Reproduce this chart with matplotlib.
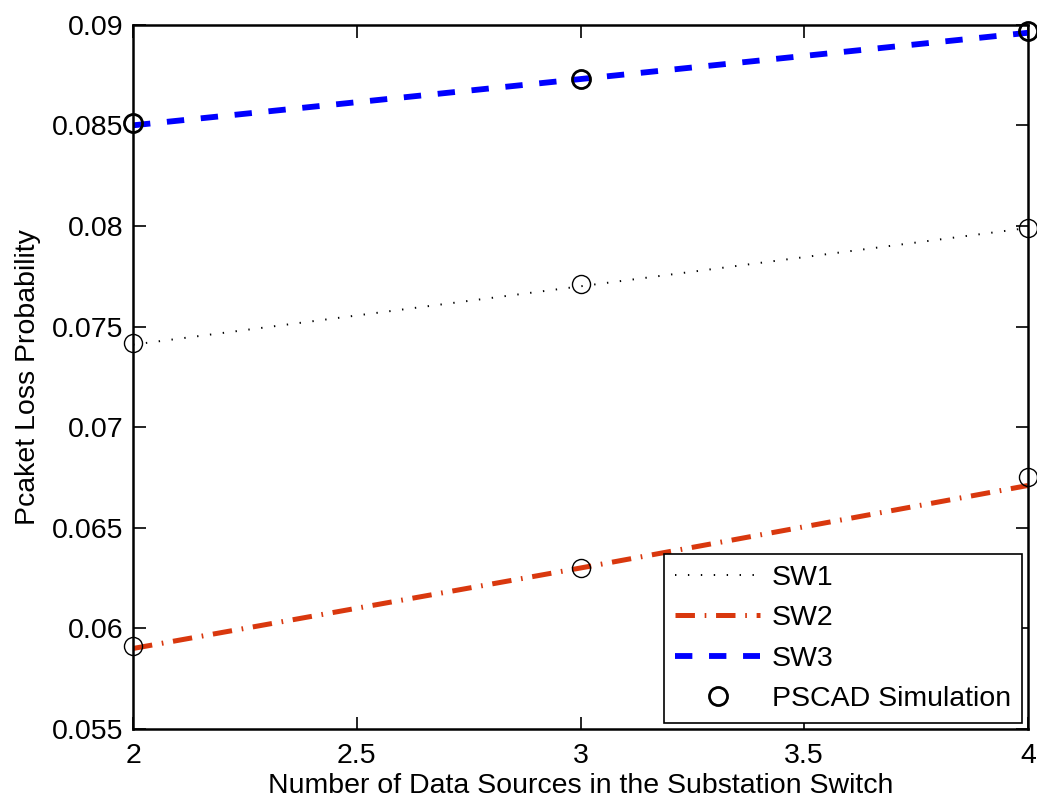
import matplotlib
matplotlib.use('Agg')
import matplotlib.pyplot as plt

plt.rcParams['font.family'] = ['Liberation Sans', 'DejaVu Sans']
plt.rcParams['lines.scale_dashes'] = False

# Numero de fuentes de datos en el switch
fuentes = [2, 3, 4]

# Modelo analitico por switch
sw1 = [0.0741, 0.0770, 0.0799]
sw2 = [0.0590, 0.0630, 0.0671]
sw3 = [0.0850, 0.0873, 0.0896]

# Resultados de simulacion PSCAD
pscad_sw1 = [0.0742, 0.0771, 0.0799]
pscad_sw2 = [0.0591, 0.0630, 0.0675]
pscad_sw3 = [0.0851, 0.0873, 0.0897]

rojo = '#D9380E'
fs = 20.5

fig = plt.figure(figsize=(10.37, 8), dpi=100)
ax = fig.add_axes([0.1283, 0.0888, 0.8630, 0.8803])

l1, = ax.plot(fuentes, sw1, color='black', lw=1.4, dashes=(1.0, 8.3), label='SW1')
l2, = ax.plot(fuentes, sw2, color=rojo, lw=3.6, dashes=(14, 7, 1.2, 7), label='SW2')
l3, = ax.plot(fuentes, sw3, color='blue', lw=4.2, dashes=(12.5, 12), label='SW3')

ax.plot(fuentes, pscad_sw1, 'o', ms=13, mfc='none', mec='black', mew=1.0, clip_on=False)
ax.plot(fuentes, pscad_sw2, 'o', ms=13, mfc='none', mec='black', mew=1.0, clip_on=False)
sim, = ax.plot(fuentes, pscad_sw3, 'o', ms=13, mfc='none', mec='black', mew=2.0,
               clip_on=False, label='PSCAD Simulation')

ax.set_xlim(2, 4)
ax.set_ylim(0.055, 0.09)
ax.set_xticks([2, 2.5, 3, 3.5, 4])
ax.set_xticklabels(['2', '2.5', '3', '3.5', '4'])
ax.set_yticks([0.055, 0.06, 0.065, 0.07, 0.075, 0.08, 0.085, 0.09])
ax.set_yticklabels(['0.055', '0.06', '0.065', '0.07', '0.075', '0.08', '0.085', '0.09'])
ax.tick_params(direction='in', length=9, width=1.2, labelsize=fs, top=True, right=True, pad=7)
ax.tick_params(axis='x', pad=10)
for s in ax.spines.values():
    s.set_linewidth(1.8)

ax.set_xlabel('Number of Data Sources in the Substation Switch', fontsize=fs, labelpad=3)
ax.set_ylabel('Pcaket Loss Probability', fontsize=fs, labelpad=8)

leg = ax.legend(handles=[l1, l2, l3, sim], loc='lower right', fontsize=fs,
                fancybox=False, edgecolor='black', framealpha=1,
                borderaxespad=0.2, handlelength=3.0, handletextpad=0.4,
                labelspacing=0.5, borderpad=0.4)
leg.get_frame().set_linewidth(1.2)

fig.savefig('out.png', dpi=100)
